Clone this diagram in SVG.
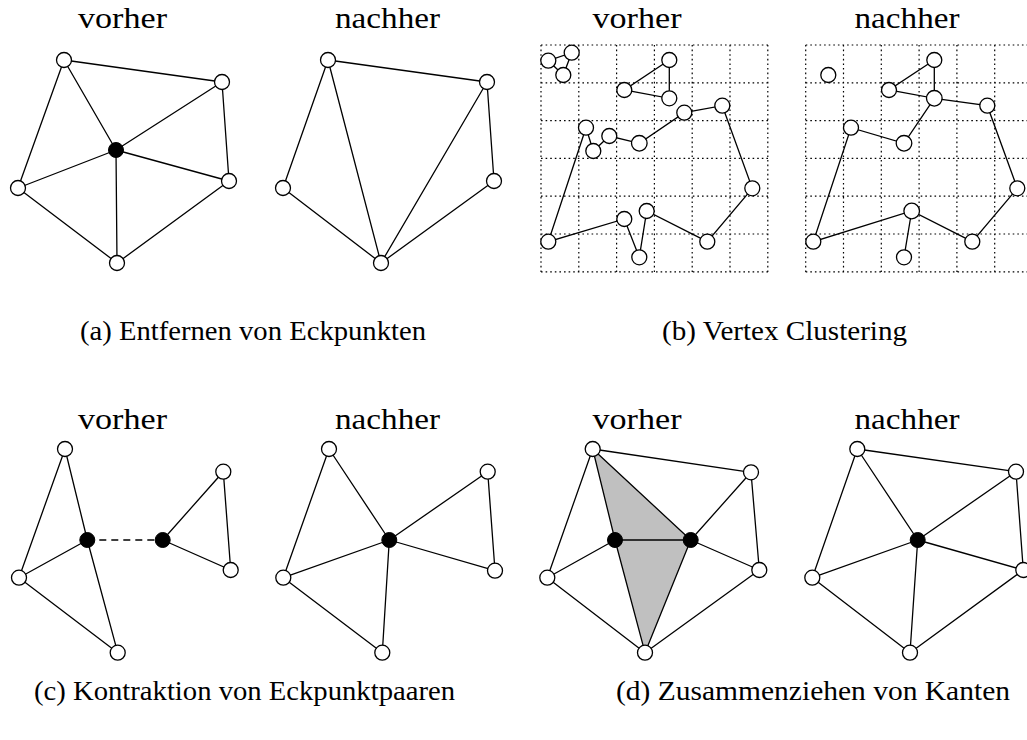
<svg xmlns="http://www.w3.org/2000/svg" width="1027" height="740" viewBox="0 0 1027 740">
<style>
.e{stroke:#000;stroke-width:1.3;fill:none}
.n{fill:#fff;stroke:#000;stroke-width:1.3}
.b{fill:#000;stroke:#000;stroke-width:1}
.g{stroke:#000;stroke-width:1.2;stroke-dasharray:1.6 3;fill:none}
.h{font-family:"Liberation Serif","DejaVu Serif",serif;font-size:29px;fill:#000;text-anchor:middle}
.c{font-family:"Liberation Serif","DejaVu Serif",serif;font-size:27px;fill:#000}
</style>
<rect width="1027" height="740" fill="#fff"/>
<g id="labels">
<text class="h" x="122.5" y="28" textLength="89" lengthAdjust="spacingAndGlyphs">vorher</text>
<text class="h" x="387.5" y="28" textLength="105" lengthAdjust="spacingAndGlyphs">nachher</text>
<text class="h" x="637" y="28" textLength="89" lengthAdjust="spacingAndGlyphs">vorher</text>
<text class="h" x="907" y="28" textLength="105" lengthAdjust="spacingAndGlyphs">nachher</text>
<text class="c" x="80" y="340" textLength="346" lengthAdjust="spacingAndGlyphs">(a) Entfernen von Eckpunkten</text>
<text class="c" x="662" y="340" textLength="245" lengthAdjust="spacingAndGlyphs">(b) Vertex Clustering</text>
<text class="h" x="122.5" y="429" textLength="89" lengthAdjust="spacingAndGlyphs">vorher</text>
<text class="h" x="387.5" y="429" textLength="105" lengthAdjust="spacingAndGlyphs">nachher</text>
<text class="h" x="637" y="429" textLength="89" lengthAdjust="spacingAndGlyphs">vorher</text>
<text class="h" x="907" y="429" textLength="105" lengthAdjust="spacingAndGlyphs">nachher</text>
<text class="c" x="34" y="700" textLength="421" lengthAdjust="spacingAndGlyphs">(c) Kontraktion von Eckpunktpaaren</text>
<text class="c" x="616" y="700" textLength="394" lengthAdjust="spacingAndGlyphs">(d) Zusammenziehen von Kanten</text>
</g>
<g id="grids">
<path class="g" d="M541,45H768M541,82.8H768M541,120.6H768M541,158.4H768M541,196.2H768M541,234H768M541,271.8H768M541,45V272M578.8,45V272M616.6,45V272M654.4,45V272M692.2,45V272M730,45V272M767.8,45V272"/>
<path class="g" d="M805.7,45H1027M805.7,82.8H1027M805.7,120.6H1027M805.7,158.4H1027M805.7,196.2H1027M805.7,234H1027M805.7,271.8H1027M805.7,45V272M843.5,45V272M881.3,45V272M919.1,45V272M956.9,45V272M994.7,45V272"/>
</g>
<g id="fill">
<polygon points="592.7,449 690.7,540 645,652.7 615,540" fill="#c0c0c0" stroke="none"/>
</g>
<g id="connectors">
<path class="e" d="M64,60L222,82M64,60L116,150M64,60L18,188M222,82L116,150M222,82L229,181M116,150L18,188M116,150L229,181M116,150L117,263M18,188L117,263M229,181L117,263"/>
<path class="e" d="M328,60L487,82M328,60L283,188M328,60L381,263M487,82L381,263M487,82L494,181M283,188L381,263M494,181L381,263"/>
<path class="e" d="M548.3,60.7L571.7,52.7L563.3,75Z M669.3,60L624.3,90L669.3,98.3Z M586,127.7L593.3,151L609.3,136L639.3,143.3L684.3,112.7L722.3,105.7L752.3,188.3L707.3,241.7L646.7,211L639.3,257.3L624.3,219L548.3,241.7Z"/>
<path class="e" d="M934.3,60L889,90L934.3,98.3ZM934.3,98.3L987.3,105.7L1017.3,188.3L972.3,241.7L911.7,211L813.3,241.7L851,127.7L904,143.3L934.3,98.3M911.7,211L904,257.3"/>
<path class="e" d="M65,449L19,577.7M65,449L87.3,540L117.7,652.7M19,577.7L87.3,540M19,577.7L117.7,652.7M162.7,540L223.3,471.7L230.7,570L162.7,540"/>
<path class="e" d="M87.3,540H162.7" stroke-dasharray="7 5"/>
<path class="e" d="M329,449L283.3,577.7M329,449L389.3,540M283.3,577.7L389.3,540M283.3,577.7L382.3,652.7M389.3,540L382.3,652.7M389.3,540L487.7,471.7M389.3,540L495,570.7M487.7,471.7L495,570.7"/>
<path class="e" d="M592.7,449L751,472.3M592.7,449L547.3,577.7M592.7,449L615,540M592.7,449L690.7,540M751,472.3L690.7,540M751,472.3L759.3,570M547.3,577.7L615,540M547.3,577.7L645,652.7M615,540L645,652.7M690.7,540L645,652.7M690.7,540L759.3,570M759.3,570L645,652.7"/>
<path class="e" d="M615,540H690.7" stroke-width="2.2"/>
<path class="e" d="M857.3,449L1016,471.7M857.3,449L812.3,577.7M857.3,449L917.7,540M1016,471.7L917.7,540M1016,471.7L1023.3,570M812.3,577.7L917.7,540M812.3,577.7L910,652.7M917.7,540L910,652.7M917.7,540L1023.3,570M1023.3,570L910,652.7"/>
</g>
<g id="nodes-a-vorher">
<circle class="n" cx="64" cy="60" r="7.5"/><circle class="n" cx="222" cy="82" r="7.5"/><circle class="n" cx="18" cy="188" r="7.5"/><circle class="n" cx="229" cy="181" r="7.5"/><circle class="n" cx="117" cy="263" r="7.5"/><circle class="b" cx="116" cy="150" r="7.5"/>
</g>
<g id="nodes-a-nachher">
<circle class="n" cx="328" cy="60" r="7.5"/><circle class="n" cx="487" cy="82" r="7.5"/><circle class="n" cx="283" cy="188" r="7.5"/><circle class="n" cx="494" cy="181" r="7.5"/><circle class="n" cx="381" cy="263" r="7.5"/>
</g>
<g id="nodes-b-vorher">
<circle class="n" cx="548.3" cy="60.7" r="7.5"/><circle class="n" cx="571.7" cy="52.7" r="7.5"/><circle class="n" cx="563.3" cy="75" r="7.5"/>
<circle class="n" cx="669.3" cy="60" r="7.5"/><circle class="n" cx="624.3" cy="90" r="7.5"/><circle class="n" cx="669.3" cy="98.3" r="7.5"/>
<circle class="n" cx="684.3" cy="112.7" r="7.5"/><circle class="n" cx="722.3" cy="105.7" r="7.5"/><circle class="n" cx="639.3" cy="143.3" r="7.8"/><circle class="n" cx="609.3" cy="136" r="7.5"/><circle class="n" cx="593.3" cy="151" r="7.5"/><circle class="n" cx="586" cy="127.7" r="7.5"/>
<circle class="n" cx="752.3" cy="188.3" r="7.5"/><circle class="n" cx="707.3" cy="241.7" r="7.5"/><circle class="n" cx="646.7" cy="211" r="7.5"/><circle class="n" cx="624.3" cy="219" r="7.5"/><circle class="n" cx="639.3" cy="257.3" r="7.5"/><circle class="n" cx="548.3" cy="241.7" r="7.5"/>
</g>
<g id="nodes-b-nachher">
<circle class="n" cx="828.3" cy="75" r="7.5"/><circle class="n" cx="934.3" cy="60" r="7.5"/><circle class="n" cx="889" cy="90" r="7.5"/><circle class="n" cx="934.3" cy="98.3" r="7.8"/><circle class="n" cx="987.3" cy="105.7" r="7.5"/><circle class="n" cx="851" cy="127.7" r="7.5"/><circle class="n" cx="904" cy="143.3" r="7.8"/><circle class="n" cx="1017.3" cy="188.3" r="7.5"/><circle class="n" cx="972.3" cy="241.7" r="7.5"/><circle class="n" cx="911.7" cy="211" r="7.8"/><circle class="n" cx="904" cy="257.3" r="7.5"/><circle class="n" cx="813.3" cy="241.7" r="7.5"/>
</g>
<g id="nodes-c-vorher">
<circle class="n" cx="65" cy="449" r="7.5"/><circle class="n" cx="19" cy="577.7" r="7.5"/><circle class="n" cx="117.7" cy="652.7" r="7.5"/><circle class="n" cx="223.3" cy="471.7" r="7.5"/><circle class="n" cx="230.7" cy="570" r="7.5"/><circle class="b" cx="87.3" cy="540" r="7.5"/><circle class="b" cx="162.7" cy="540" r="7.5"/>
</g>
<g id="nodes-c-nachher">
<circle class="n" cx="329" cy="449" r="7.5"/><circle class="n" cx="283.3" cy="577.7" r="7.5"/><circle class="n" cx="382.3" cy="652.7" r="7.5"/><circle class="n" cx="487.7" cy="471.7" r="7.5"/><circle class="n" cx="495" cy="570.7" r="7.5"/><circle class="b" cx="389.3" cy="540" r="7.5"/>
</g>
<g id="nodes-d-vorher">
<circle class="n" cx="592.7" cy="449" r="7.5"/><circle class="n" cx="751" cy="472.3" r="7.5"/><circle class="n" cx="547.3" cy="577.7" r="7.5"/><circle class="n" cx="759.3" cy="570" r="7.5"/><circle class="n" cx="645" cy="652.7" r="7.5"/><circle class="b" cx="615" cy="540" r="7.5"/><circle class="b" cx="690.7" cy="540" r="7.5"/>
</g>
<g id="nodes-d-nachher">
<circle class="n" cx="857.3" cy="449" r="7.5"/><circle class="n" cx="1016" cy="471.7" r="7.5"/><circle class="n" cx="812.3" cy="577.7" r="7.5"/><circle class="n" cx="1023.3" cy="570" r="7.5"/><circle class="n" cx="910" cy="652.7" r="7.5"/><circle class="b" cx="917.7" cy="540" r="7.5"/>
</g>
</svg>
